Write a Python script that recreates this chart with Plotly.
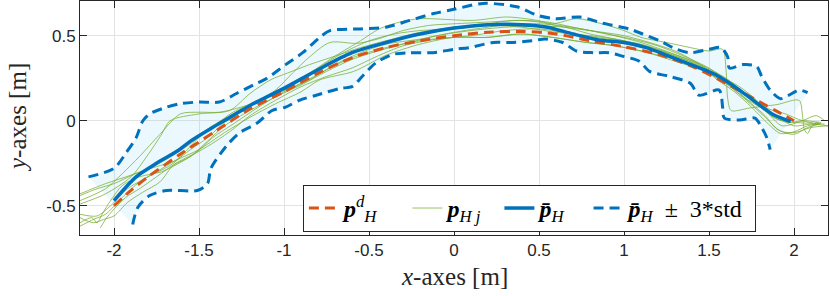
import plotly.graph_objects as go

# ---------------- data ----------------
x_tick_vals = [-2, -1.5, -1, -0.5, 0, 0.5, 1, 1.5, 2]
x_tick_text = ["-2", "-1.5", "-1", "-0.5", "0", "0.5", "1", "1.5", "2"]
y_tick_vals = [-0.5, 0, 0.5]
y_tick_text = ["-0.5", "0", "0.5"]

desired_x = [-2.0, -1.9, -1.8, -1.6, -1.4, -1.2, -1.0, -0.8, -0.6, -0.4, -0.2, 0.0, 0.2, 0.4,
             0.6, 0.8, 1.0, 1.2, 1.4, 1.6, 1.8, 1.9, 2.0]
desired_y = [-0.50, -0.41, -0.33, -0.19, -0.06, 0.07, 0.17, 0.28, 0.37, 0.43, 0.47, 0.50, 0.52, 0.525,
             0.51, 0.47, 0.435, 0.39, 0.32, 0.22, 0.11, 0.055, 0.0]

mean_x = [-2.0, -1.87, -1.75, -1.63, -1.55, -1.42, -1.3, -1.2, -1.0, -0.8, -0.6, -0.4, -0.2, 0.0,
          0.2, 0.4, 0.55, 0.7, 0.85, 1.0, 1.13, 1.34, 1.54, 1.68, 1.8, 1.88, 1.98]
mean_y = [-0.47, -0.33, -0.25, -0.18, -0.12, -0.04, 0.03, 0.09, 0.19, 0.30, 0.40, 0.46, 0.51, 0.545,
          0.565, 0.565, 0.55, 0.51, 0.475, 0.46, 0.43, 0.35, 0.27, 0.18, 0.09, 0.035, -0.005]

upper_x = [-2.15, -2.0, -1.93, -1.87, -1.83, -1.79, -1.69, -1.61, -1.5, -1.38, -1.28, -1.18, -1.1,
           -0.99, -0.89, -0.79, -0.73, -0.55, -0.4, -0.26, -0.12, 0.0, 0.17, 0.37, 0.49, 0.6, 0.74,
           0.87, 1.03, 1.11, 1.21, 1.31, 1.39, 1.5, 1.57, 1.61, 1.62, 1.7, 1.78, 1.81, 1.86, 1.92,
           1.97, 2.03, 2.08]
upper_y = [-0.33, -0.28, -0.19, -0.10, 0.0, 0.04, 0.08, 0.10, 0.11, 0.11, 0.16, 0.21, 0.25,
           0.33, 0.40, 0.49, 0.53, 0.54, 0.55, 0.59, 0.63, 0.655, 0.69, 0.67, 0.62, 0.60, 0.61,
           0.575, 0.54, 0.51, 0.47, 0.42, 0.40, 0.42, 0.43, 0.375, 0.31, 0.33, 0.32, 0.26, 0.18, 0.13,
           0.15, 0.18, 0.165]

lower_x = [-1.89, -1.86, -1.79, -1.69, -1.51, -1.45, -1.43, -1.34, -1.26, -1.16, -1.07, -0.99,
           -0.91, -0.81, -0.67, -0.6, -0.54, -0.46, -0.36, -0.26, -0.12, 0.0, 0.09, 0.23, 0.35,
           0.46, 0.54, 0.64, 0.72, 0.82, 0.91, 0.99, 1.09, 1.15, 1.27, 1.39, 1.44, 1.56, 1.58,
           1.59, 1.68, 1.77, 1.81, 1.84, 1.86]
lower_y = [-0.61, -0.51, -0.44, -0.41, -0.41, -0.37, -0.28, -0.15, -0.07, -0.015, 0.06, 0.08,
           0.12, 0.15, 0.19, 0.20, 0.26, 0.34, 0.39, 0.40, 0.40, 0.42, 0.43, 0.46, 0.46,
           0.47, 0.48, 0.46, 0.41, 0.40, 0.40, 0.38, 0.35, 0.29, 0.26, 0.22, 0.15, 0.18, 0.08,
           0.016, 0.004, 0.015, -0.04, -0.10, -0.17]

traj1_x = [-2.2, -2.05, -1.95, -1.85, -1.73, -1.61, -1.5, -1.38, -1.22, -1.04, -0.9, -0.75, -0.6,
           -0.4, -0.2, 0.0, 0.2, 0.4, 0.58, 0.78, 0.95, 1.1, 1.3, 1.5, 1.65, 1.75, 1.83, 1.9, 2.0,
           2.08, 2.15]
traj1_y = [-0.47, -0.40, -0.31, -0.21, -0.08, 0.04, 0.05, 0.05, 0.09, 0.16, 0.22, 0.30, 0.37,
           0.43, 0.47, 0.49, 0.49, 0.51, 0.49, 0.46, 0.44, 0.41, 0.36, 0.29, 0.19, 0.10, 0.03, -0.05,
           -0.08, -0.04, -0.02]

traj2_x = [-2.2, -2.05, -1.9, -1.75, -1.6, -1.45, -1.3, -1.15, -1.0, -0.85, -0.7, -0.55, -0.44,
           -0.32, -0.2, 0.11, 0.31, 0.49, 0.58, 0.72, 0.87, 1.0, 1.1, 1.25, 1.39, 1.5, 1.58, 1.6,
           1.61, 1.63, 1.74, 1.9, 2.03, 2.05, 2.06, 2.08, 2.1, 2.13, 2.16]
traj2_y = [-0.43, -0.37, -0.32, -0.26, -0.17, -0.06, 0.05, 0.12, 0.20, 0.28, 0.38, 0.47, 0.54,
           0.58, 0.60, 0.59, 0.61, 0.59, 0.57, 0.60, 0.57, 0.53, 0.49, 0.46, 0.43, 0.41, 0.42, 0.30,
           0.13, 0.06, 0.075, 0.095, 0.12, 0.03, -0.05, -0.075, -0.04, -0.01, -0.02]

traj3_x = [-2.2, -2.12, -2.05, -1.95, -1.85, -1.75, -1.63, -1.5, -1.35, -1.2, -1.05, -0.9, -0.79,
           -0.59, -0.4, -0.2, 0.0, 0.19, 0.39, 0.58, 0.78, 0.92, 1.1, 1.3, 1.45, 1.6, 1.72, 1.82,
           1.92, 2.0, 2.1, 2.2]
traj3_y = [-0.62, -0.58, -0.55, -0.45, -0.36, -0.30, -0.23, -0.17, -0.07, 0.02, 0.10, 0.17, 0.24,
           0.29, 0.385, 0.45, 0.49, 0.49, 0.51, 0.49, 0.46, 0.445, 0.41, 0.35, 0.30, 0.22, 0.12, 0.03,
           -0.06, -0.07, -0.04, -0.03]

traj4_x = [-2.2, -2.1, -2.02, -1.92, -1.8, -1.65, -1.55, -1.45, -1.3, -1.15, -1.05, -0.95, -0.85,
           -0.73, -0.57, -0.45, -0.3, -0.15, 0.0, 0.2, 0.4, 0.55, 0.7, 0.9, 1.1, 1.3, 1.45, 1.6,
           1.7, 1.8, 1.9, 2.0, 2.1, 2.18]
traj4_y = [-0.55, -0.56, -0.50, -0.40, -0.33, -0.25, -0.15, -0.05, 0.04, 0.12, 0.18, 0.28, 0.375,
           0.46, 0.455, 0.48, 0.53, 0.56, 0.57, 0.58, 0.59, 0.58, 0.55, 0.51, 0.46, 0.39, 0.33, 0.25,
           0.17, 0.08, 0.01, -0.01, -0.015, -0.02]

traj5_x = [-2.2, -2.05, -1.9, -1.8, -1.72, -1.67, -1.5, -1.32, -1.2, -1.08, -0.98, -0.85, -0.7,
           -0.55, -0.4, -0.2, 0.0, 0.2, 0.35, 0.5, 0.65, 0.8, 1.0, 1.15, 1.3, 1.45, 1.55, 1.65,
           1.75, 1.85, 1.95, 2.05, 2.15]
traj5_y = [-0.49, -0.43, -0.33, -0.20, -0.08, 0.0, 0.04, 0.06, 0.16, 0.24, 0.28, 0.33, 0.38,
           0.43, 0.47, 0.52, 0.55, 0.57, 0.59, 0.58, 0.55, 0.53, 0.50, 0.46, 0.41, 0.33, 0.26, 0.19,
           0.13, 0.07, 0.04, 0.0, -0.02]

traj6_x = [-2.08, -2.05, -2.0, -1.93, -1.85, -1.75, -1.65, -1.55, -1.45, -1.35, -1.2, -1.05, -0.9,
           -0.75, -0.6, -0.45, -0.3, -0.1, 0.1, 0.3, 0.5, 0.65, 0.8, 1.0, 1.2, 1.4, 1.55, 1.68,
           1.78, 1.86, 1.93, 2.05, 2.13, 2.18]
traj6_y = [-0.63, -0.58, -0.52, -0.45, -0.40, -0.33, -0.26, -0.21, -0.12, -0.03, 0.06, 0.14, 0.21,
           0.29, 0.36, 0.41, 0.45, 0.50, 0.53, 0.55, 0.555, 0.55, 0.51, 0.47, 0.42, 0.35, 0.27, 0.20,
           0.12, 0.03, -0.03, 0.0, 0.03, 0.0]

traj7_x = [-2.2, -2.13, -2.1, -2.07, -2.02, -1.95, -1.85, -1.72, -1.6, -1.52, -1.42, -1.3, -1.15,
           -1.0, -0.85, -0.7, -0.55, -0.4, -0.2, 0.0, 0.2, 0.35, 0.5, 0.62, 0.75, 0.9, 1.05, 1.2,
           1.35, 1.5, 1.6, 1.7, 1.78, 1.88, 1.97, 2.05, 2.16]
traj7_y = [-0.60, -0.57, -0.60, -0.55, -0.47, -0.38, -0.33, -0.30, -0.24, -0.19, -0.10, -0.02, 0.08,
           0.17, 0.24, 0.33, 0.40, 0.45, 0.48, 0.52, 0.55, 0.57, 0.57, 0.56, 0.54, 0.51, 0.48, 0.44,
           0.38, 0.31, 0.24, 0.17, 0.11, 0.02, -0.01, 0.0, -0.01]

traj8_x = [-2.2, -2.12, -2.06, -2.0, -1.92, -1.83, -1.73, -1.65, -1.58, -1.5, -1.4, -1.3, -1.2,
           -1.05, -0.9, -0.75, -0.6, -0.45, -0.3, -0.1, 0.1, 0.3, 0.5, 0.7, 0.9, 1.1, 1.3, 1.45,
           1.55, 1.65, 1.75, 1.85, 1.92, 2.0, 2.08, 2.15]
traj8_y = [-0.57, -0.60, -0.58, -0.56, -0.48, -0.42, -0.36, -0.26, -0.22, -0.18, -0.12, -0.05, 0.03,
           0.12, 0.20, 0.26, 0.31, 0.38, 0.44, 0.48, 0.50, 0.53, 0.54, 0.51, 0.48, 0.45, 0.38, 0.32,
           0.24, 0.17, 0.08, -0.02, -0.075, -0.065, -0.03, -0.02]

traj9_x = [-2.2, -2.1, -2.0, -1.87, -1.75, -1.65, -1.55, -1.45, -1.35, -1.25, -1.1, -0.95, -0.8,
           -0.65, -0.5, -0.35, -0.2, 0.0, 0.2, 0.4, 0.6, 0.8, 1.0, 1.15, 1.3, 1.4, 1.5, 1.6, 1.7,
           1.8, 1.9, 2.0, 2.1, 2.2]
traj9_y = [-0.44, -0.40, -0.37, -0.31, -0.27, -0.24, -0.17, -0.10, -0.01, 0.06, 0.14, 0.22, 0.31,
           0.40, 0.47, 0.51, 0.53, 0.54, 0.56, 0.55, 0.52, 0.50, 0.47, 0.43, 0.38, 0.34, 0.28, 0.22,
           0.14, 0.08, 0.02, -0.03, -0.02, -0.03]

traj_x = [traj1_x, traj2_x, traj3_x, traj4_x, traj5_x, traj6_x, traj7_x, traj8_x, traj9_x]
traj_y = [traj1_y, traj2_y, traj3_y, traj4_y, traj5_y, traj6_y, traj7_y, traj8_y, traj9_y]

# ---------------- styles ----------------
BLUE = "#0072BD"
ORANGE = "#D95319"
GREEN = "rgba(119,172,48,0.75)"
FILL = "rgba(77,190,238,0.11)"
AX = "#262626"
SERIF = "Liberation Serif"
SANS = "Liberation Sans"

fig = go.Figure()

# shaded band
fig.add_trace(go.Scatter(
    x=upper_x + lower_x[::-1], y=upper_y + lower_y[::-1],
    fill="toself", fillcolor=FILL, line=dict(width=0), mode="lines",
    showlegend=False, hoverinfo="skip"))

for i, (tx, ty) in enumerate(zip(traj_x, traj_y)):
    fig.add_trace(go.Scatter(
        x=tx, y=ty, mode="lines",
        line=dict(color=GREEN, width=1, shape="spline", smoothing=0.8),
        name="<b><i>p</i></b><sub><i>H j</i></sub>  ",
        showlegend=(i == 0), legendgroup="traj", legendrank=2))

fig.add_trace(go.Scatter(
    x=desired_x, y=desired_y, mode="lines",
    line=dict(color=ORANGE, width=3, dash="10px,6px", shape="spline", smoothing=0.8),
    name="<b><i>p</i></b><sup><i>d</i></sup><sub><i>H</i></sub>    ", legendrank=1))

fig.add_trace(go.Scatter(
    x=mean_x, y=mean_y, mode="lines",
    line=dict(color=BLUE, width=3.5, shape="spline", smoothing=0.8),
    name="<b><i>p̄</i></b><sub><i>H</i></sub>   ", legendrank=3))

fig.add_trace(go.Scatter(
    x=upper_x, y=upper_y, mode="lines",
    line=dict(color=BLUE, width=3, dash="10px,6px", shape="spline", smoothing=0.8),
    name="<b><i>p̄</i></b><sub><i>H</i></sub>  ±  3*std ", legendgroup="bound", legendrank=4))
fig.add_trace(go.Scatter(
    x=lower_x, y=lower_y, mode="lines",
    line=dict(color=BLUE, width=3, dash="10px,6px", shape="spline", smoothing=0.8),
    showlegend=False, legendgroup="bound"))

axis_common = dict(
    showline=True, linecolor=AX, linewidth=1, mirror="ticks",
    ticks="inside", ticklen=7, tickcolor=AX, tickwidth=1,
    showgrid=True, gridcolor="#e3e3e3", gridwidth=1, zeroline=False,
    tickfont=dict(family=SANS, size=17, color=AX))

fig.update_layout(
    width=830, height=296,
    margin=dict(l=80, r=2, t=1, b=61),
    paper_bgcolor="white", plot_bgcolor="white",
    xaxis=dict(range=[-2.2, 2.2], tickvals=x_tick_vals, ticktext=x_tick_text, **axis_common),
    yaxis=dict(range=[-0.672, 0.704], tickvals=y_tick_vals, ticktext=y_tick_text, **axis_common),
    legend=dict(orientation="h", x=0.298, y=0.214, xanchor="left", yanchor="top",
                bordercolor=AX, borderwidth=1, bgcolor="white",
                font=dict(family=SERIF, size=24, color="black"), itemwidth=30,
                traceorder="normal"),
    annotations=[
        dict(text="<i>x</i>-axes [m]", xref="paper", yref="paper", x=0.5, y=0,
             yshift=-41, xanchor="center", yanchor="middle", showarrow=False,
             font=dict(family=SERIF, size=25, color=AX)),
        dict(text="<i>y</i>-axes [m]", xref="paper", yref="paper", x=0, y=0.5,
             xshift=-63, xanchor="center", yanchor="middle", textangle=-90, showarrow=False,
             font=dict(family=SERIF, size=25, color=AX)),
    ],
)

fig.write_html("out.html", config={"displayModeBar": False},
               post_script="document.body.style.margin='0';document.body.style.padding='0';")
